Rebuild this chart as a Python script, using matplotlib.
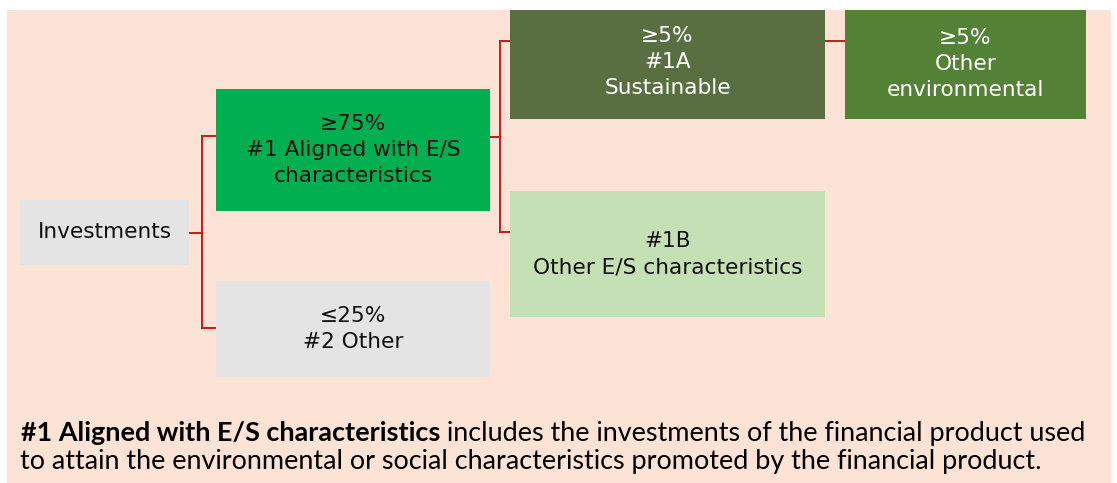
import matplotlib
matplotlib.use("Agg")
import matplotlib.pyplot as plt
from matplotlib.patches import Rectangle

# ---- data ----
node_ids = ["inv", "aligned", "other2", "sust1a", "otherenv", "other1b"]
node_shares = ["", "≥75%", "≤25%", "≥5%", "≥5%", ""]
node_labels = ["Investments", "#1 Aligned with E/S\ncharacteristics", "#2 Other",
               "#1A\nSustainable", "Other\nenvironmental", "#1B\nOther E/S characteristics"]
edges = [("inv", "aligned"), ("inv", "other2"), ("aligned", "sust1a"),
         ("aligned", "other1b"), ("sust1a", "otherenv")]
note_bold = "#1 Aligned with E/S characteristics"
note_rest1 = " includes the investments of the financial product used"
note_line2 = "to attain the environmental or social characteristics promoted by the financial product."

# ---- layout (pixels) ----
W, H = 1117, 483
boxes = {
    "inv": (20, 200, 189, 265),
    "aligned": (216, 89, 490, 211),
    "other2": (216, 281, 490, 377),
    "sust1a": (510, 10, 825, 119),
    "otherenv": (845, 10, 1086, 119),
    "other1b": (510, 191, 825, 317),
}
fills = {
    "inv": "#E4E4E4", "aligned": "#00B050", "other2": "#E4E4E4",
    "sust1a": "#5A6F41", "otherenv": "#538135", "other1b": "#C5E0B4",
}
txtcol = {"sust1a": "white", "otherenv": "white"}
text_cy = {"inv": 232, "aligned": 150, "other2": 329, "sust1a": 62,
           "otherenv": 64, "other1b": 254}
RED = "#CC1818"

fig = plt.figure(figsize=(W / 100, H / 100), dpi=100)
fig.patch.set_facecolor("white")
ax = fig.add_axes([0, 0, 1, 1])
ax.set_xlim(0, W)
ax.set_ylim(H, 0)
ax.axis("off")

ax.add_patch(Rectangle((7, 10), 1111 - 7, H - 10, facecolor="#FCE3D6", edgecolor="none", zorder=0))

renderer = fig.canvas.get_renderer()


def fit_size(text, target_px, family, weight="normal", base=20):
    t = ax.text(0, 0, text, fontsize=base, family=family, weight=weight)
    w = t.get_window_extent(renderer).width
    t.remove()
    return base * target_px / w


box_font = ["DejaVu Sans"]
bfs = fit_size("Investments", 134, box_font)

for nid, share, lab in zip(node_ids, node_shares, node_labels):
    x0, y0, x1, y1 = boxes[nid]
    ax.add_patch(Rectangle((x0, y0), x1 - x0, y1 - y0, facecolor=fills[nid],
                           edgecolor="none", zorder=2))
    s = (share + "\n" + lab) if share else lab
    ax.text((x0 + x1) / 2, text_cy[nid], s, ha="center", va="center",
            multialignment="center", fontsize=bfs, family=box_font,
            color=txtcol.get(nid, "#111111"), linespacing=1.38, zorder=3)

# connectors
lw = 1.4
ax.plot([189, 202], [233, 233], color=RED, lw=lw, zorder=1)
ax.plot([202, 202], [136, 328], color=RED, lw=lw, zorder=1)
ax.plot([202, 216], [136, 136], color=RED, lw=lw, zorder=1)
ax.plot([202, 216], [328, 328], color=RED, lw=lw, zorder=1)
ax.plot([490, 500], [137, 137], color=RED, lw=lw, zorder=1)
ax.plot([500, 500], [41, 232], color=RED, lw=lw, zorder=1)
ax.plot([500, 510], [41, 41], color=RED, lw=lw, zorder=1)
ax.plot([500, 510], [232, 232], color=RED, lw=lw, zorder=1)
ax.plot([825, 845], [41, 41], color=RED, lw=lw, zorder=1)

# bottom note
note_font = ["Lato", "DejaVu Sans"]
nfs = fit_size(note_line2, 1047 - 20, note_font)
tb = ax.text(21, 441, note_bold, fontsize=nfs, family=note_font, weight="bold",
             va="baseline", ha="left", color="black")
bb = tb.get_window_extent(renderer)
x_end = ax.transData.inverted().transform((bb.x1, bb.y0))[0]
ax.text(x_end, 441, note_rest1, fontsize=nfs, family=note_font, va="baseline",
        ha="left", color="black")
ax.text(20, 469, note_line2, fontsize=nfs, family=note_font, va="baseline",
        ha="left", color="black")

fig.savefig("out.png", dpi=100, facecolor="white")
